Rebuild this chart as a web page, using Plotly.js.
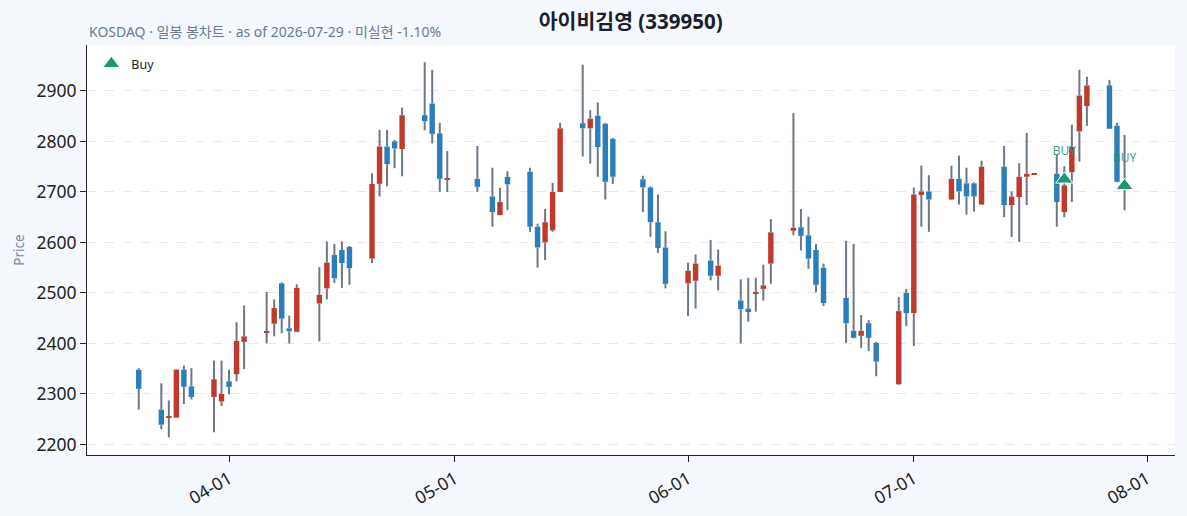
<!DOCTYPE html>
<html>
<head>
<meta charset="utf-8">
<script src="https://cdn.plot.ly/plotly-3.0.1.min.js"></script>
<style>
  html, body { margin: 0; padding: 0; background: #f5f8fc; }
  #chart { width: 1187px; height: 516px; }
</style>
</head>
<body>
<div id="chart"></div>
<script>
const dates = [
  '2026-03-20','2026-03-23','2026-03-24','2026-03-25','2026-03-26','2026-03-27','2026-03-30','2026-03-31',
  '2026-04-01','2026-04-02','2026-04-03','2026-04-06','2026-04-07','2026-04-08','2026-04-09','2026-04-10',
  '2026-04-13','2026-04-14','2026-04-15','2026-04-16','2026-04-17','2026-04-20','2026-04-21','2026-04-22',
  '2026-04-23','2026-04-24','2026-04-27','2026-04-28','2026-04-29','2026-04-30',
  '2026-05-04','2026-05-06','2026-05-07','2026-05-08','2026-05-11','2026-05-12','2026-05-13','2026-05-14',
  '2026-05-15','2026-05-18','2026-05-19','2026-05-20','2026-05-21','2026-05-22','2026-05-26','2026-05-27',
  '2026-05-28','2026-05-29',
  '2026-06-01','2026-06-02','2026-06-04','2026-06-05','2026-06-08','2026-06-09','2026-06-10','2026-06-11',
  '2026-06-12','2026-06-15','2026-06-16','2026-06-17','2026-06-18','2026-06-19','2026-06-22','2026-06-23',
  '2026-06-24','2026-06-25','2026-06-26','2026-06-29','2026-06-30',
  '2026-07-01','2026-07-02','2026-07-03','2026-07-06','2026-07-07','2026-07-08','2026-07-09','2026-07-10',
  '2026-07-13','2026-07-14','2026-07-15','2026-07-16','2026-07-17','2026-07-20','2026-07-21','2026-07-22',
  '2026-07-23','2026-07-24','2026-07-27','2026-07-28','2026-07-29'
];
const openP = [
  2348,2269,2253,2253,2348,2315,2294,2285,
  2325,2339,2403,2421,2439,2519,2430,2423,
  2479,2509,2575,2585,2591,2568,2716,2790,
  2800,2785,2852,2875,2816,2725,
  2726,2691,2654,2730,2740,2631,2600,2624,
  2700,2836,2826,2851,2835,2805,2725,2709,
  2640,2590,
  2519,2524,2564,2534,2485,2469,2498,2508,
  2558,2623,2630,2614,2585,2550,2490,2425,
  2415,2440,2401,2319,2500,
  2460,2694,2701,2685,2726,2717,2717,2675,
  2750,2674,2690,2730,2735,2736,2660,2739,
  2820,2870,2911,2831,2720
];
const highP = [
  2351,2321,2287,2349,2356,2351,2366,2366,
  2348,2442,2475,2502,2487,2521,2455,2517,
  2551,2602,2597,2602,2593,2737,2823,2823,
  2803,2867,2957,2942,2837,2781,
  2791,2748,2708,2741,2748,2637,2666,2718,
  2837,2952,2862,2877,2837,2807,2732,2711,
  2695,2622,
  2560,2576,2605,2586,2527,2530,2530,2556,
  2646,2856,2666,2651,2597,2558,2603,2597,
  2456,2446,2403,2492,2508,
  2709,2752,2733,2752,2772,2748,2719,2762,
  2791,2701,2757,2817,2737,2773,2751,2833,
  2942,2928,2922,2837,2813
];
const lowP = [
  2269,2230,2214,2252,2280,2289,2224,2276,
  2299,2325,2349,2400,2414,2420,2400,2422,
  2404,2487,2520,2510,2516,2559,2691,2711,
  2747,2731,2822,2796,2700,2700,
  2700,2631,2654,2664,2621,2550,2565,2621,
  2700,2770,2756,2730,2685,2716,2660,2611,
  2579,2509,
  2454,2469,2525,2505,2400,2443,2463,2485,
  2518,2614,2584,2548,2501,2474,2401,2410,
  2391,2385,2335,2318,2434,
  2395,2631,2621,2684,2675,2655,2661,2674,
  2650,2611,2601,2674,2735,2631,2650,2680,
  2760,2831,2825,2719,2664
];
const closeP = [
  2310,2239,2256,2348,2314,2294,2329,2300,
  2314,2405,2414,2424,2470,2449,2424,2510,
  2496,2560,2529,2559,2549,2716,2790,2755,
  2786,2852,2840,2815,2726,2727,
  2710,2660,2680,2715,2631,2590,2640,2700,
  2826,2826,2845,2789,2720,2730,2709,2640,
  2589,2518,
  2544,2558,2534,2554,2468,2462,2501,2515,
  2620,2629,2613,2568,2516,2480,2440,2411,
  2425,2411,2364,2464,2460,
  2695,2701,2685,2726,2701,2691,2691,2750,
  2674,2691,2730,2736,2737,2680,2713,2789,
  2891,2911,2825,2720,2712
];
const buyDates = ['2026-07-21','2026-07-29'];
const buyPrices = [2725, 2712];
const buyLabels = ['BUY','BUY'];
const yTicks = [2200,2300,2400,2500,2600,2700,2800,2900];
const xTicks = ['2026-04-01','2026-05-01','2026-06-01','2026-07-01','2026-08-01'];
const xTickText = ['04-01','05-01','06-01','07-01','08-01'];

const RED = '#c0392b', BLUE = '#2a7fba', WICK = '#6b7886', GREEN = '#1a9a6e';
const FONT = 'Noto Sans, Noto Sans CJK KR, sans-serif';
const TICKFONT = 'Noto Sans, sans-serif';

// wick segments: low -> body bottom, body top -> high (so wicks never cover bodies)
const wx = [], wy = [];
dates.forEach((d, i) => {
  const lo = Math.min(openP[i], closeP[i]), hi = Math.max(openP[i], closeP[i]);
  wx.push(d, d, null, d, d, null);
  wy.push(lowP[i], lo, null, hi, highP[i], null);
});

// bodies split into up/down
const up = {x: [], base: [], y: []}, dn = {x: [], base: [], y: []};
dates.forEach((d, i) => {
  const o = openP[i], c = closeP[i];
  const t = c >= o ? up : dn;
  t.x.push(d); t.base.push(Math.min(o, c)); t.y.push(Math.abs(c - o));
});
const W = 0.72 * 86400000;

const traces = [
  {type: 'scatter', mode: 'lines', x: wx, y: wy, line: {color: WICK, width: 2},
   hoverinfo: 'skip', showlegend: false},
  {type: 'bar', x: up.x, y: up.y, base: up.base, width: W, marker: {color: RED, line: {width: 0}},
   showlegend: false, hoverinfo: 'x'},
  {type: 'bar', x: dn.x, y: dn.y, base: dn.base, width: W, marker: {color: BLUE, line: {width: 0}},
   showlegend: false, hoverinfo: 'x'},
  {type: 'scatter', mode: 'markers+text', x: buyDates, y: buyPrices, text: buyLabels,
   textposition: 'top center', textfont: {color: 'rgba(26,154,110,0.9)', size: 12, family: FONT},
   marker: {size: 32, color: 'rgba(0,0,0,0)'}, showlegend: false, hoverinfo: 'skip', cliponaxis: false},
  {type: 'scatter', mode: 'markers', name: 'Buy', x: buyDates, y: buyPrices,
   marker: {symbol: 'triangle-up', size: 15, color: GREEN, line: {color: '#ffffff', width: 1}},
   cliponaxis: false}
];

const layout = {
  width: 1187, height: 516,
  paper_bgcolor: '#f5f8fc', plot_bgcolor: '#ffffff',
  margin: {l: 87, r: 12, t: 45, b: 61},
  font: {family: FONT, color: '#222222', size: 13},
  barmode: 'overlay',
  title: {text: '<b>아이비김영 (339950)</b>', x: 0.5313, xanchor: 'center', y: 0.958, yanchor: 'middle',
          font: {size: 20.5, color: '#1a1f2e', family: FONT}},
  annotations: [{
    text: 'KOSDAQ · 일봉 봉차트 · as of 2026-07-29 · 미실현 -1.10%',
    xref: 'paper', yref: 'paper', x: 0, y: 1, xanchor: 'left', yanchor: 'bottom', yshift: 2,
    showarrow: false, font: {size: 14, color: '#6b7a90', family: FONT}
  }],
  xaxis: {
    type: 'date', range: ['2026-03-13 03:00', '2026-08-04 17:00'],
    tickvals: xTicks, ticktext: xTickText, tickangle: -30,
    showgrid: false, showline: true, linecolor: '#222222', linewidth: 1,
    ticks: 'outside', ticklen: 6, tickcolor: '#222222', zeroline: false,
    tickfont: {size: 17.5, color: '#222222', family: TICKFONT}
  },
  yaxis: {
    range: [2179, 2991], tickvals: yTicks,
    showgrid: true, gridcolor: '#e8e8e8', griddash: 'dash', gridwidth: 1,
    showline: true, linecolor: '#222222', linewidth: 1,
    ticks: 'outside', ticklen: 6, tickcolor: '#222222', zeroline: false,
    tickfont: {size: 17.5, color: '#222222', family: TICKFONT},
    title: {text: 'Price', font: {size: 13.5, color: '#7a8aa0'}, standoff: 8}
  },
  legend: {x: 0.004, y: 0.99, xanchor: 'left', yanchor: 'top', bgcolor: 'rgba(255,255,255,0)',
           font: {size: 12.5, color: '#222222'}},
  showlegend: true
};

Plotly.newPlot('chart', traces, layout, {displayModeBar: false, responsive: false});
</script>
</body>
</html>
